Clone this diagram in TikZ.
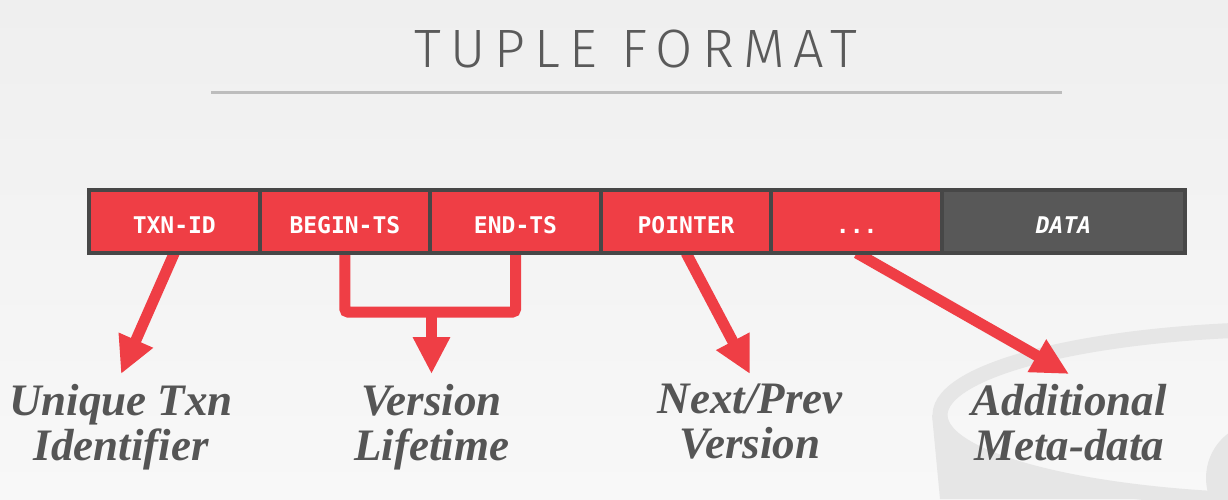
\documentclass[tikz,border=0pt]{standalone}
\usepackage{fontspec}
\usetikzlibrary{arrows.meta,positioning}
\newfontfamily\titlefont{Fira Sans Light}[LetterSpace=17]
\newfontfamily\cellfont{DejaVu Sans Mono}
\newfontfamily\notefont{Liberation Serif}
\definecolor{cellred}{HTML}{EF3E45}
\definecolor{barline}{HTML}{474747}
\definecolor{datagray}{HTML}{585858}
\definecolor{notegray}{HTML}{555555}
\definecolor{titlegray}{HTML}{5A5A5A}
\definecolor{rulegray}{HTML}{BDBDBD}
\definecolor{bgtop}{HTML}{EFEFEF}
\definecolor{bgbottom}{HTML}{F8F8F8}
\definecolor{logogray}{HTML}{E6E6E6}
\pgfdeclarelayer{back}
\pgfsetlayers{back,main}
\tikzset{
  cell/.style = {draw=barline, line width=4pt, fill=cellred, text=white,
                 minimum width=170.6pt, minimum height=63pt,
                 text height=23pt, text depth=0pt,
                 inner sep=0, outer sep=0, font=\cellfont\bfseries\fontsize{23}{23}\selectfont},
  datacell/.style = {cell, fill=datagray, minimum width=243pt,
                 font=\cellfont\bfseries\itshape\fontsize{23}{23}\selectfont},
  callout/.style = {draw=cellred, line width=11pt,
                 -{Triangle[length=37pt,width=35pt]}},
  bracket/.style = {draw=cellred, line width=11pt, rounded corners=3pt},
  note/.style = {text=notegray, align=center, anchor=north, inner sep=0,
                 outer sep=10pt, font=\notefont\bfseries\itshape\fontsize{45}{45}\selectfont},
  title/.style = {text=titlegray, anchor=base, inner sep=0,
                 font=\titlefont\fontsize{54}{54}\selectfont},
}
\begin{document}
\begin{tikzpicture}[x=1pt,y=-1pt]
\useasboundingbox (0,0) rectangle (1228,499);
\begin{pgfonlayer}{back}
  \shade[top color=bgtop, bottom color=bgbottom] (0,0) rectangle (1228,499);
  % logo in the corner
  \begin{scope}
    \clip (0,0) rectangle (1228,499);
    \fill[logogray] (932,415) -- (947,415)
      arc [start angle=180, end angle=117, x radius=353, y radius=79]
      -- (1140,499) -- (940,499) -- cycle;
    \draw[logogray, line width=15pt] (1300,415) ellipse [x radius=360, y radius=86];
    \fill[logogray] (1262,478) circle [radius=56];
  \end{scope}
\end{pgfonlayer}

\node[title] (title) at (636,67) {TUPLE FORMAT};
\draw[rulegray, line width=3pt] (211,92) -- (1062,92);

\node[cell] (txnid) at (174.3,221.5) {TXN-ID};
\node[cell, right=0pt of txnid] (begints) {BEGIN-TS};
\node[cell, right=0pt of begints] (endts) {END-TS};
\node[cell, right=0pt of endts] (pointer) {POINTER};
\node[cell, right=0pt of pointer] (dots) {...};
\node[datacell, right=0pt of dots] (data) {DATA};

\node[note] (unique) at (121,374) {Unique Txn\\Identifier};
\node[note] (life) at (431.5,374) {Version\\Lifetime};
\node[note] (nextprev) at (750,374) {Next/Prev\\Version};
\node[note] (meta) at (1069,374) {Additional\\Meta-data};

\coordinate (join) at (431.5,312);
\begin{pgfonlayer}{back}
  \draw[callout] (txnid.south) -- (unique.north);
  \draw[bracket] (begints.south) |- (join) -| (endts.south);
  \draw[callout] (join) -- (life.north);
  \draw[callout] (pointer.south) -- (nextprev.north);
  \draw[callout] (dots.south) -- (meta.north);
\end{pgfonlayer}
\end{tikzpicture}
\end{document}
